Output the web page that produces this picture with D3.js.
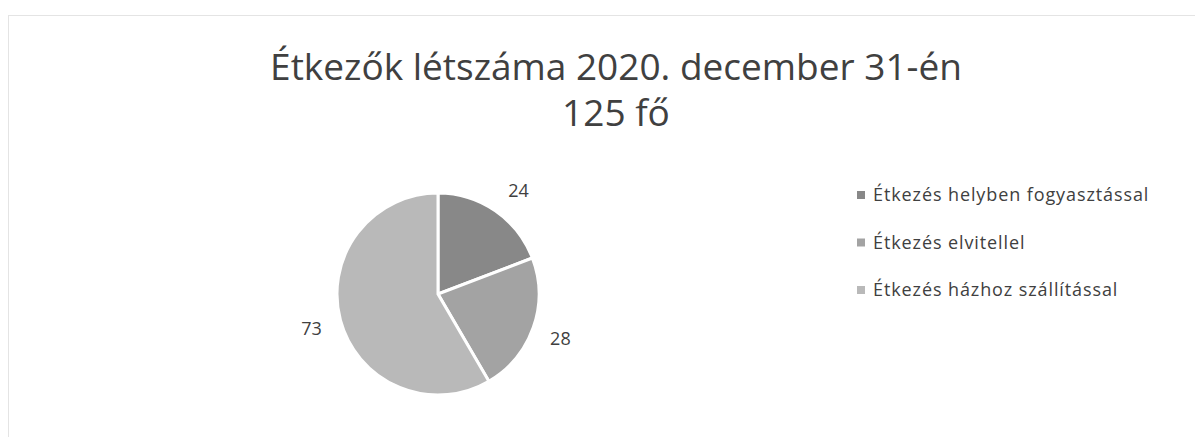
<!DOCTYPE html>
<html>
<head>
<meta charset="utf-8">
<script src="https://cdn.jsdelivr.net/npm/d3@7"></script>
<style>
  body { margin: 0; background: #fff; }
  svg { display: block; }
  text { font-family: "Open Sans", "Liberation Sans", sans-serif; fill: #404040; }
</style>
</head>
<body>
<svg id="chart"></svg>
<script>
const categories = ['Étkezés helyben fogyasztással', 'Étkezés elvitellel', 'Étkezés házhoz szállítással'];
const values = [24, 28, 73];
const colors = ['#888888', '#a3a3a3', '#b9b9b9'];
const titleLines = ['Étkezők létszáma 2020. december 31-én', '125 fő'];

const width = 1195, height = 437;
const svg = d3.select('#chart').attr('width', width).attr('height', height);

// chart frame
svg.append('rect')
    .attr('x', 8.5).attr('y', 15.5)
    .attr('width', width - 8).attr('height', height)
    .attr('fill', 'none')
    .attr('stroke', '#e4e4e4');

// title
svg.selectAll('.title')
  .data(titleLines)
  .join('text')
    .attr('class', 'title')
    .attr('x', 616)
    .attr('y', (d, i) => 80 + i * 46)
    .attr('text-anchor', 'middle')
    .style('font-size', '37px')
    .text(d => d);

// pie
const cx = 438, cy = 294, r = 101;
const pie = d3.pie().sort(null).value(d => d);
const arc = d3.arc().innerRadius(0).outerRadius(r);
const labelArc = d3.arc().innerRadius(r + 32).outerRadius(r + 32);
// small best-fit nudges for the data labels
const labelNudge = [[5, 6], [-3, 0], [2, 0]];

const g = svg.append('g').attr('transform', `translate(${cx},${cy})`);
const arcs = pie(values);

g.selectAll('path')
  .data(arcs)
  .join('path')
    .attr('d', arc)
    .attr('fill', (d, i) => colors[i])
    .attr('stroke', '#fff')
    .attr('stroke-width', 3);

g.selectAll('.label')
  .data(arcs)
  .join('text')
    .attr('class', 'label')
    .attr('transform', (d, i) => {
      const [x, y] = labelArc.centroid(d);
      return `translate(${x + labelNudge[i][0]},${y + labelNudge[i][1]})`;
    })
    .attr('text-anchor', 'middle')
    .attr('dy', '0.35em')
    .style('font-size', '18px')
    .text(d => d.data);

// legend
const legend = svg.append('g').attr('transform', 'translate(857,195)');
const rows = legend.selectAll('g')
  .data(categories)
  .join('g')
    .attr('transform', (d, i) => `translate(0,${i * 47.5})`);

rows.append('rect')
    .attr('x', 0).attr('y', -4)
    .attr('width', 8).attr('height', 8)
    .attr('fill', (d, i) => colors[i]);

rows.append('text')
    .attr('x', 16)
    .attr('dy', '0.35em')
    .style('font-size', '18px')
    .style('letter-spacing', '0.9px')
    .text(d => d);
</script>
</body>
</html>
